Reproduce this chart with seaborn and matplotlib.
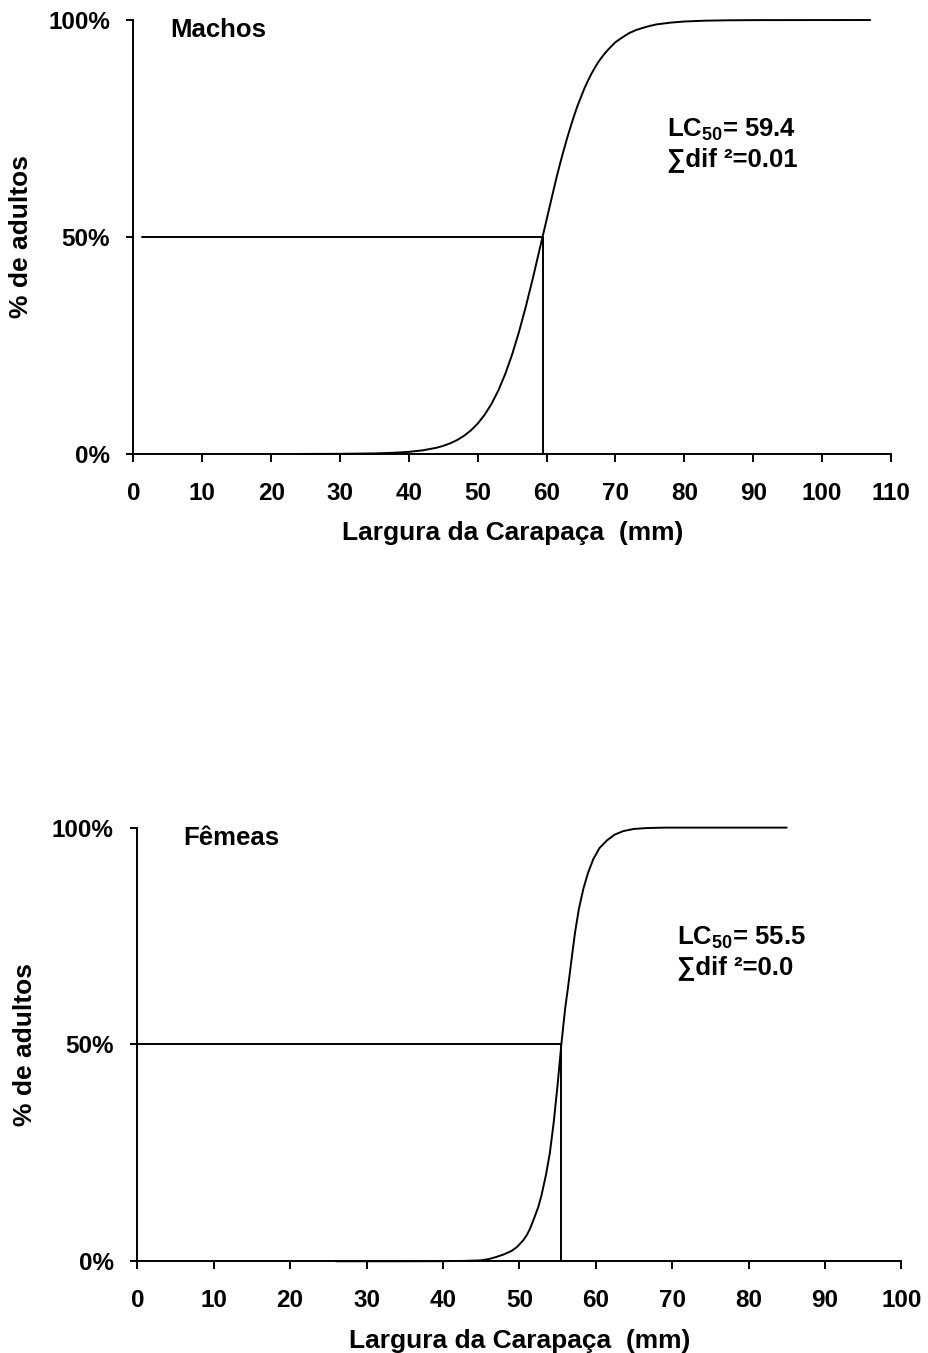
import matplotlib
matplotlib.use("Agg")
import matplotlib.pyplot as plt
import seaborn as sns
import pandas as pd

# Maturity ogives: % adults by carapace width (mm)
machos_largura = [24, 30, 35, 38, 40, 42, 44, 45, 46, 47, 48, 49, 50, 51, 52, 53, 54,
                  55, 56, 57, 58, 59.4, 60, 61, 61.5, 62, 62.5, 63, 63.5, 64, 64.5, 65,
                  65.5, 66, 66.5, 67, 67.5, 68, 68.5, 69, 70, 71, 72, 73, 74, 75, 76,
                  78, 80, 83, 86, 90, 107]
machos_adultos = [0, 0.03, 0.12, 0.28, 0.48, 0.83, 1.42, 1.87, 2.45, 3.2, 4.17, 5.42,
                  7.01, 9.03, 11.56, 14.68, 18.47, 22.97, 28.2, 34.1, 40.5, 50, 54.0,
                  60.8, 64.1, 67.2, 70.1, 72.9, 75.5, 78.0, 80.3, 82.3, 84.3, 86.0,
                  87.6, 89.0, 90.3, 91.4, 92.4, 93.3, 94.9, 96.0, 97.0, 97.7, 98.2,
                  98.65, 99.0, 99.4, 99.66, 99.85, 99.93, 99.98, 100]

femeas_largura = [26, 35, 40, 43, 44.9, 46, 47, 48, 49, 49.7, 50.5, 51, 51.4, 52, 52.5,
                  52.9, 53.5, 54, 54.5, 55, 55.5, 56, 56.4, 56.9, 57.3, 57.8, 58.4, 59,
                  59.7, 60.5, 61.5, 62.5, 63.6, 65, 66.7, 69, 71.1, 85]
femeas_adultos = [0, 0, 0.02, 0.1, 0.2, 0.5, 1.0, 1.6, 2.4, 3.3, 4.8, 6.1, 7.5, 10.2,
                  12.6, 15.2, 20.0, 25.0, 32.0, 40.5, 50, 58.3, 63.5, 70.5, 75.9, 81.3,
                  86.0, 89.6, 92.8, 95.3, 97.1, 98.4, 99.2, 99.7, 99.9, 100, 100, 100]

lc50_machos = 59.4
lc50_femeas = 55.5
sdif_machos = "0.01"
sdif_femeas = "0.0"

y_ticks = [0, 50, 100]
y_ticklabels = ["0%", "50%", "100%"]
x_ticks_machos = list(range(0, 111, 10))
x_ticks_femeas = list(range(0, 101, 10))

sns.set_style("ticks")
plt.rcParams["font.family"] = ["Liberation Sans", "DejaVu Sans"]
plt.rcParams["font.weight"] = "bold"
plt.rcParams["mathtext.fontset"] = "custom"
plt.rcParams["mathtext.rm"] = "Liberation Sans:bold"
plt.rcParams["mathtext.bf"] = "Liberation Sans:bold"
plt.rcParams["axes.linewidth"] = 1.4
for key in ["text.color", "axes.labelcolor", "xtick.color", "ytick.color",
            "axes.edgecolor"]:
    plt.rcParams[key] = "black"

FS_TICK = 17.5
FS_LABEL = 19
FS_TEXT = 18.5
LW = 1.4

fig = plt.figure(figsize=(9.29, 13.53), dpi=100)
ax1 = fig.add_axes([0.1437, 0.6645, 0.8153, 0.3207])
ax2 = fig.add_axes([0.1478, 0.0678, 0.8224, 0.3205])


def draw_panel(ax, xs, ys, lc50, xmax, xticks, titulo, titulo_x, sdif, txt_x, line_start):
    df = pd.DataFrame({"largura": xs, "adultos": ys})
    sns.lineplot(data=df, x="largura", y="adultos", ax=ax, color="black",
                 linewidth=LW, clip_on=False)
    # 50% reference lines
    ax.plot([line_start, lc50], [50, 50], color="black", linewidth=LW)
    ax.plot([lc50, lc50], [0, 50], color="black", linewidth=LW)

    ax.set_xlim(0, xmax)
    ax.set_ylim(0, 100)
    ax.set_xticks(xticks)
    ax.set_xticklabels([str(t) for t in xticks], fontsize=FS_TICK, fontweight="bold")
    ax.set_yticks(y_ticks)
    ax.set_yticklabels(y_ticklabels, fontsize=FS_TICK, fontweight="bold")
    ax.tick_params(axis="x", direction="out", length=6, width=LW, pad=14)
    ax.tick_params(axis="y", direction="out", length=5, width=LW, pad=12)
    sns.despine(ax=ax)
    ax.set_xlabel("Largura da Carapaça  (mm)", fontsize=FS_LABEL, fontweight="bold",
                  labelpad=12)
    ax.set_ylabel("% de adultos", fontsize=FS_LABEL, fontweight="bold", labelpad=11)

    ax.text(titulo_x, 97.7, titulo, fontsize=FS_TEXT, fontweight="bold", va="center",
            ha="left")
    ax.text(txt_x, 74.6, r"LC$_{\mathbf{50}}$= " + f"{lc50}", fontsize=FS_TEXT,
            fontweight="bold", va="center", ha="left")
    ax.text(txt_x, 67.8, "∑dif ²=" + sdif, fontsize=FS_TEXT, fontweight="bold",
            va="center", ha="left")


draw_panel(ax1, machos_largura, machos_adultos, lc50_machos, 110, x_ticks_machos,
           "Machos", 5.4, sdif_machos, 77.5, 1.3)
draw_panel(ax2, femeas_largura, femeas_adultos, lc50_femeas, 100, x_ticks_femeas,
           "Fêmeas", 6.0, sdif_femeas, 70.6, 0)

fig.savefig("out.png", dpi=100, facecolor="white")
